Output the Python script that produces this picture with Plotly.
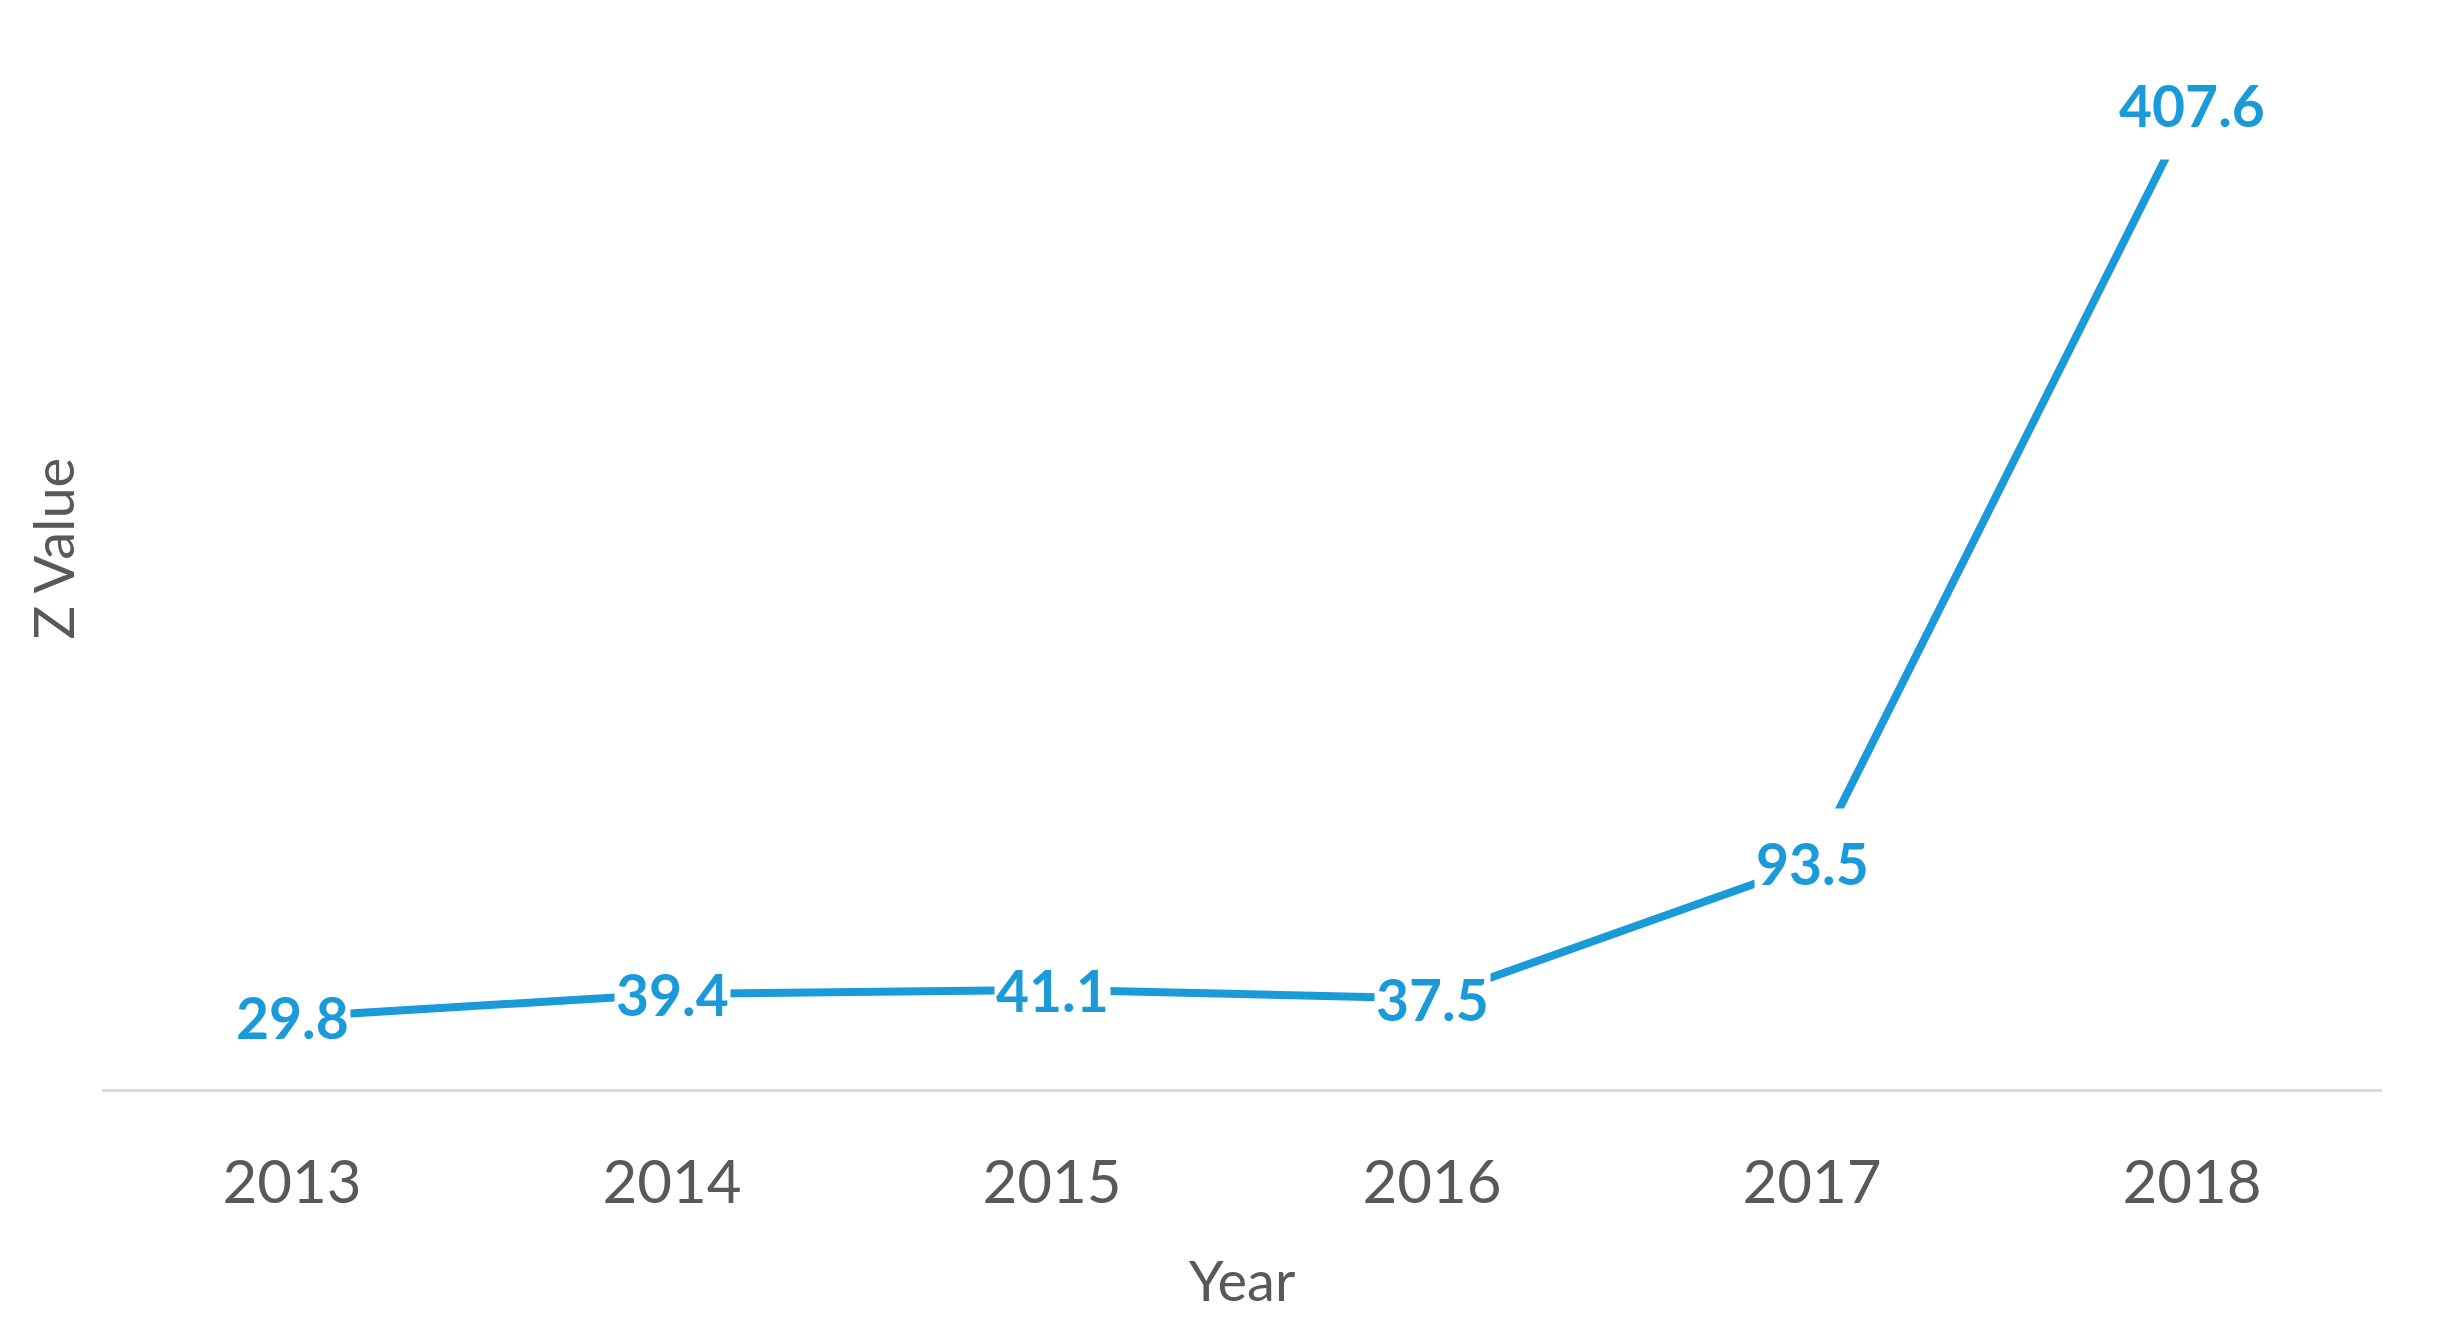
import plotly.graph_objects as go

years = [2013, 2014, 2015, 2016, 2017, 2018]
z_values = [29.8, 39.4, 41.1, 37.5, 93.5, 407.6]
value_labels = ["29.8", "39.4", "41.1", "37.5", "93.5", "407.6"]
tick_labels = ["2013", "2014", "2015", "2016", "2017", "2018"]

BLUE = "#1A9AD9"
GREY_TEXT = "#595959"
FONT = "Lato, 'Open Sans', sans-serif"

fig = go.Figure()
fig.add_trace(go.Scatter(
    x=years, y=z_values, mode="lines",
    line=dict(color=BLUE, width=8),
    hoverinfo="x+y", showlegend=False,
))

for yr, v, lab in zip(years, z_values, value_labels):
    fig.add_annotation(
        x=yr, y=v, xref="x", yref="y", text="<b>" + lab + "</b>",
        showarrow=False, xanchor="center", yanchor="middle",
        font=dict(family=FONT, size=57, color=BLUE),
        bgcolor="white", borderpad=1, height=106,
    )

fig.add_annotation(
    text="Z Value", textangle=-90, showarrow=False,
    xref="paper", yref="paper", x=0, y=0.5, xanchor="center", yanchor="middle",
    xshift=-50, font=dict(family=FONT, size=56, color=GREY_TEXT),
)

fig.update_layout(
    width=2440, height=1342,
    paper_bgcolor="white", plot_bgcolor="white",
    margin=dict(l=94, r=66, t=0, b=261),
    font=dict(family=FONT, color=GREY_TEXT),
    xaxis=dict(
        range=[2012.5, 2018.5],
        tickvals=years, ticktext=tick_labels,
        showline=True, linecolor="#D9D9D9", linewidth=3,
        showgrid=False, zeroline=False, ticks="",
        ticklabelstandoff=39,
        tickfont=dict(size=60, color=GREY_TEXT),
        title=dict(text="Year", font=dict(size=56, color=GREY_TEXT), standoff=47),
        automargin=False,
    ),
    yaxis=dict(
        range=[0, 448], showgrid=False, zeroline=False, showline=False,
        showticklabels=False, ticks="",
        automargin=False,
    ),
)

fig.write_html("out.html")
